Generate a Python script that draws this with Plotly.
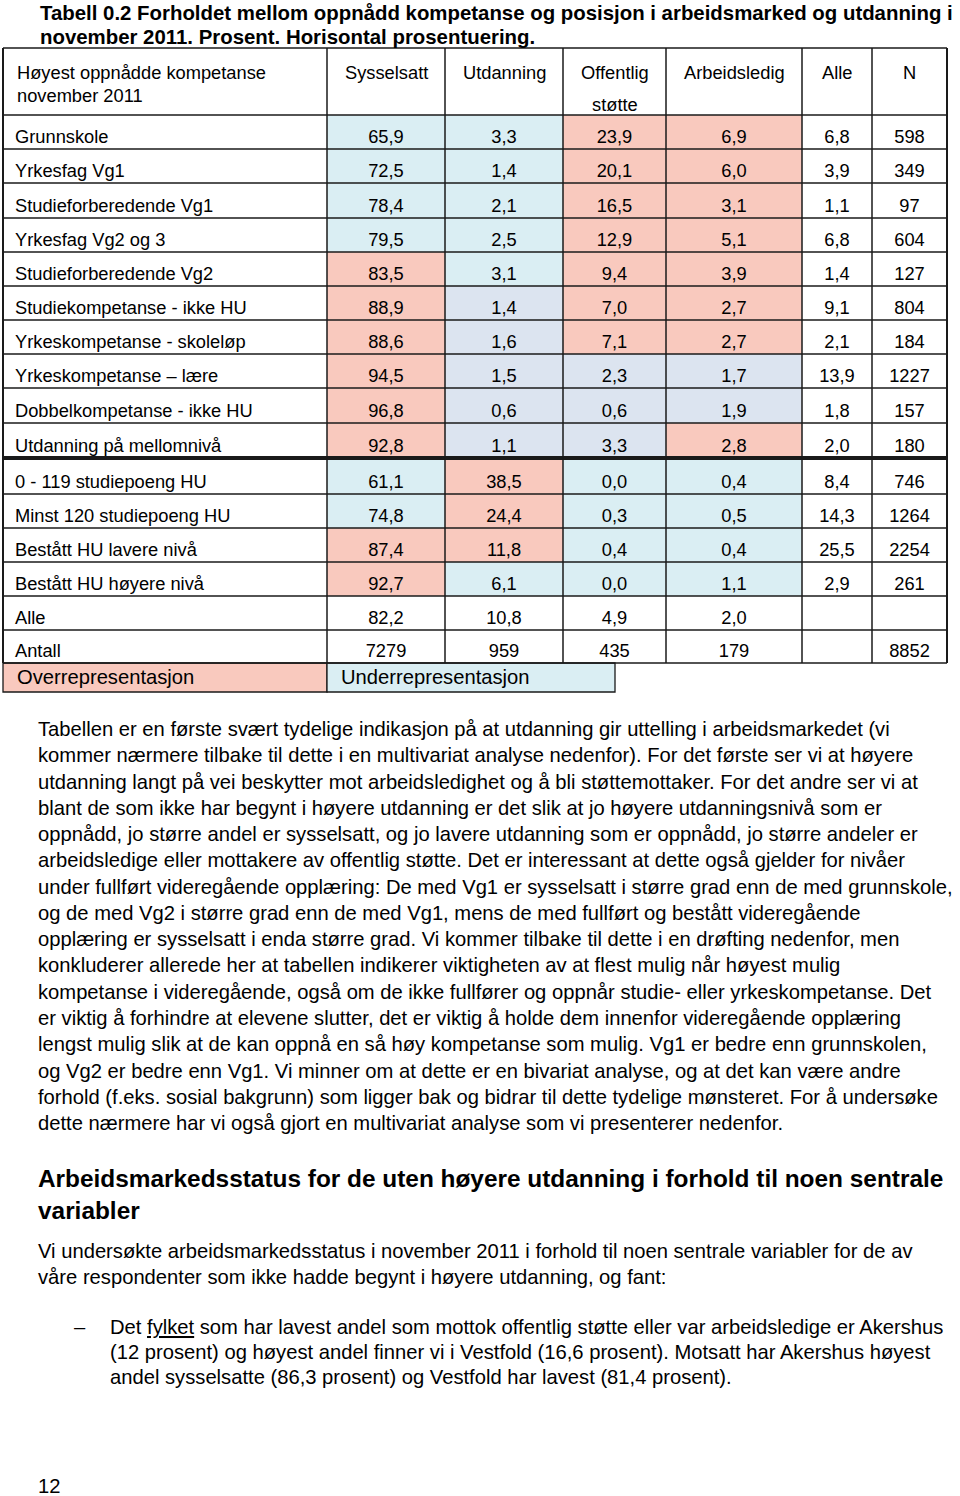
import plotly.graph_objects as go

# ---------------- data ----------------
title_lines = ["Tabell 0.2 Forholdet mellom oppnådd kompetanse og posisjon i arbeidsmarked og utdanning i",
               "november 2011. Prosent. Horisontal prosentuering."]
header_first = ["Høyest oppnådde kompetanse", "november 2011"]
col_headers = ["Sysselsatt", "Utdanning", "Offentlig", "Arbeidsledig", "Alle", "N"]

categories = ["Grunnskole", "Yrkesfag Vg1", "Studieforberedende Vg1", "Yrkesfag Vg2 og 3",
              "Studieforberedende Vg2", "Studiekompetanse - ikke HU", "Yrkeskompetanse - skoleløp",
              "Yrkeskompetanse – lære", "Dobbelkompetanse - ikke HU", "Utdanning på mellomnivå",
              "0 - 119 studiepoeng HU", "Minst 120 studiepoeng HU", "Bestått HU lavere nivå",
              "Bestått HU høyere nivå"]
sysselsatt = [65.9, 72.5, 78.4, 79.5, 83.5, 88.9, 88.6, 94.5, 96.8, 92.8, 61.1, 74.8, 87.4, 92.7]
utdanning = [3.3, 1.4, 2.1, 2.5, 3.1, 1.4, 1.6, 1.5, 0.6, 1.1, 38.5, 24.4, 11.8, 6.1]
offentlig = [23.9, 20.1, 16.5, 12.9, 9.4, 7.0, 7.1, 2.3, 0.6, 3.3, 0.0, 0.3, 0.4, 0.0]
arbeidsledig = [6.9, 6.0, 3.1, 5.1, 3.9, 2.7, 2.7, 1.7, 1.9, 2.8, 0.4, 0.5, 0.4, 1.1]
alle = [6.8, 3.9, 1.1, 6.8, 1.4, 9.1, 2.1, 13.9, 1.8, 2.0, 8.4, 14.3, 25.5, 2.9]
n_values = [598, 349, 97, 604, 127, 804, 184, 1227, 157, 180, 746, 1264, 2254, 261]
alle_row = [82.2, 10.8, 4.9, 2.0]
antall_row = [7279, 959, 435, 179]
antall_total = 8852

# O = overrepresentasjon, U = underrepresentasjon, G = underrepresentasjon (grey-blue shade)
sysselsatt_rep = ["U", "U", "U", "U", "O", "O", "O", "O", "O", "O", "U", "U", "O", "O"]
utdanning_rep = ["U", "U", "U", "U", "U", "G", "G", "G", "G", "G", "O", "O", "O", "U"]
offentlig_rep = ["O", "O", "O", "O", "O", "O", "O", "G", "G", "G", "U", "U", "U", "U"]
arbeidsledig_rep = ["O", "O", "O", "O", "O", "O", "O", "G", "G", "O", "U", "U", "U", "U"]

legend_labels = ["Overrepresentasjon", "Underrepresentasjon"]

paragraph1 = [
    "Tabellen er en første svært tydelige indikasjon på at utdanning gir uttelling i arbeidsmarkedet (vi",
    "kommer nærmere tilbake til dette i en multivariat analyse nedenfor). For det første ser vi at høyere",
    "utdanning langt på vei beskytter mot arbeidsledighet og å bli støttemottaker. For det andre ser vi at",
    "blant de som ikke har begynt i høyere utdanning er det slik at jo høyere utdanningsnivå som er",
    "oppnådd, jo større andel er sysselsatt, og jo lavere utdanning som er oppnådd, jo større andeler er",
    "arbeidsledige eller mottakere av offentlig støtte. Det er interessant at dette også gjelder for nivåer",
    "under fullført videregående opplæring: De med Vg1 er sysselsatt i større grad enn de med grunnskole,",
    "og de med Vg2 i større grad enn de med Vg1, mens de med fullført og bestått videregående",
    "opplæring er sysselsatt i enda større grad. Vi kommer tilbake til dette i en drøfting nedenfor, men",
    "konkluderer allerede her at tabellen indikerer viktigheten av at flest mulig når høyest mulig",
    "kompetanse i videregående, også om de ikke fullfører og oppnår studie- eller yrkeskompetanse. Det",
    "er viktig å forhindre at elevene slutter, det er viktig å holde dem innenfor videregående opplæring",
    "lengst mulig slik at de kan oppnå en så høy kompetanse som mulig. Vg1 er bedre enn grunnskolen,",
    "og Vg2 er bedre enn Vg1. Vi minner om at dette er en bivariat analyse, og at det kan være andre",
    "forhold (f.eks. sosial bakgrunn) som ligger bak og bidrar til dette tydelige mønsteret. For å undersøke",
    "dette nærmere har vi også gjort en multivariat analyse som vi presenterer nedenfor.",
]
heading = ["Arbeidsmarkedsstatus for de uten høyere utdanning i forhold til noen sentrale", "variabler"]
paragraph2 = ["Vi undersøkte arbeidsmarkedsstatus i november 2011 i forhold til noen sentrale variabler for de av",
              "våre respondenter som ikke hadde begynt i høyere utdanning, og fant:"]
bullet_lines = ["Det <u>fylket</u> som har lavest andel som mottok offentlig støtte eller var arbeidsledige er Akershus",
                "(12 prosent) og høyest andel finner vi i Vestfold (16,6 prosent). Motsatt har Akershus høyest",
                "andel sysselsatte (86,3 prosent) og Vestfold har lavest (81,4 prosent)."]
page_number = "12"

# ---------------- layout constants ----------------
W, H = 960, 1496
col_x = [3, 327, 445, 563, 666, 802, 872, 947]
header_top = 48
row_bounds = [115, 149, 183, 218, 252, 286, 320, 354, 388, 423, 458, 494, 528, 562, 596, 630, 663]
legend_bottom = 692
colors = {"O": "#F9C9BE", "U": "#DAEEF3", "G": "#DCE4F0"}
line_col = "#1a1a1a"
FONT = "Liberation Sans, Arial, sans-serif"
TSIZE = 18.3
PSIZE = 20.2


def fmt(v):
    return f"{v:.1f}".replace(".", ",")


fig = go.Figure()
shapes = []
annotations = []

# cell fills
rep_cols = [sysselsatt_rep, utdanning_rep, offentlig_rep, arbeidsledig_rep]
for c, reps in enumerate(rep_cols):
    for r, code in enumerate(reps):
        shapes.append(dict(type="rect", xref="x", yref="y", layer="below",
                           x0=col_x[c + 1], x1=col_x[c + 2], y0=row_bounds[r], y1=row_bounds[r + 1],
                           fillcolor=colors[code], line=dict(width=0)))

# legend boxes
shapes.append(dict(type="rect", xref="x", yref="y", x0=col_x[0], x1=col_x[1], y0=row_bounds[-1],
                   y1=legend_bottom, fillcolor=colors["O"], line=dict(color=line_col, width=1.3), layer="below"))
shapes.append(dict(type="rect", xref="x", yref="y", x0=col_x[1], x1=615, y0=row_bounds[-1],
                   y1=legend_bottom, fillcolor=colors["U"], line=dict(color=line_col, width=1.3), layer="below"))

# grid lines
for yb in [header_top] + row_bounds:
    w = 4 if yb == 458 else 1.5
    shapes.append(dict(type="line", xref="x", yref="y", x0=col_x[0], x1=col_x[-1], y0=yb, y1=yb,
                       line=dict(color=line_col, width=w)))
for i, xb in enumerate(col_x):
    w = 2 if i in (0, len(col_x) - 1) else 1.5
    shapes.append(dict(type="line", xref="x", yref="y", x0=xb, x1=xb, y0=header_top, y1=row_bounds[-1],
                       line=dict(color=line_col, width=w)))

# table text via scatter traces
n_rows = len(categories)
all_rows = categories + ["Alle", "Antall"]
text_y = [row_bounds[i + 1] - 11 for i in range(len(all_rows))]
tfont = dict(family=FONT, size=TSIZE, color="black")

fig.add_trace(go.Scatter(x=[15] * len(all_rows), y=text_y, text=all_rows, mode="text",
                         textposition="middle right", hoverinfo="skip", textfont=tfont))

series = [sysselsatt, utdanning, offentlig, arbeidsledig]
for c, vals in enumerate(series):
    txt = [fmt(v) for v in vals] + [fmt(alle_row[c]), str(antall_row[c])]
    cx = (col_x[c + 1] + col_x[c + 2]) / 2
    fig.add_trace(go.Scatter(x=[cx] * len(txt), y=text_y, text=txt, mode="text",
                             textposition="middle center", hoverinfo="skip", textfont=tfont))
cx = (col_x[5] + col_x[6]) / 2
fig.add_trace(go.Scatter(x=[cx] * n_rows, y=text_y[:n_rows], text=[fmt(v) for v in alle], mode="text",
                         textposition="middle center", hoverinfo="skip", textfont=tfont))
cx = (col_x[6] + col_x[7]) / 2
fig.add_trace(go.Scatter(x=[cx] * (n_rows + 1), y=text_y[:n_rows] + [text_y[-1]],
                         text=[str(v) for v in n_values] + [str(antall_total)], mode="text",
                         textposition="middle center", hoverinfo="skip", textfont=tfont))


def ann(x, y, text, size, bold=False, xanchor="left"):
    t = f"<b>{text}</b>" if bold else text
    annotations.append(dict(x=x, y=y, xref="x", yref="y", text=t, showarrow=False,
                            xanchor=xanchor, yanchor="middle",
                            font=dict(family=FONT, size=size, color="black")))


# title
for i, line in enumerate(title_lines):
    ann(38, 13 + i * 23.5, line, 20.4, bold=True)

# header
ann(15, 72, header_first[0], TSIZE)
ann(15, 95, header_first[1], TSIZE)
for c, h in enumerate(col_headers):
    cx = (col_x[c + 1] + col_x[c + 2]) / 2
    ann(cx, 72, h, TSIZE, xanchor="center")
ann((col_x[3] + col_x[4]) / 2, 104, "støtte", TSIZE, xanchor="center")

# legend text
ann(15, 677, legend_labels[0], 20.2)
ann(339, 677, legend_labels[1], 20.2)

# paragraphs
for i, line in enumerate(paragraph1):
    ann(36, 729 + i * 26.27, line, PSIZE)
for i, line in enumerate(heading):
    ann(36, 1178 + i * 32, line, 24.4, bold=True)
for i, line in enumerate(paragraph2):
    ann(36, 1251 + i * 26, line, PSIZE)
ann(72, 1327, "–", PSIZE)
for i, line in enumerate(bullet_lines):
    ann(108, 1327 + i * 25, line, PSIZE)
ann(36, 1486, page_number, PSIZE)

fig.update_layout(
    width=W, height=H, margin=dict(l=0, r=0, t=0, b=0),
    paper_bgcolor="white", plot_bgcolor="white", showlegend=False,
    xaxis=dict(range=[0, W], visible=False, fixedrange=True),
    yaxis=dict(range=[H, 0], visible=False, fixedrange=True),
    shapes=shapes, annotations=annotations,
)
fig.write_html("out.html", config={"displayModeBar": False, "staticPlot": True},
               post_script="document.body.style.margin='0';document.body.style.overflow='hidden';")
